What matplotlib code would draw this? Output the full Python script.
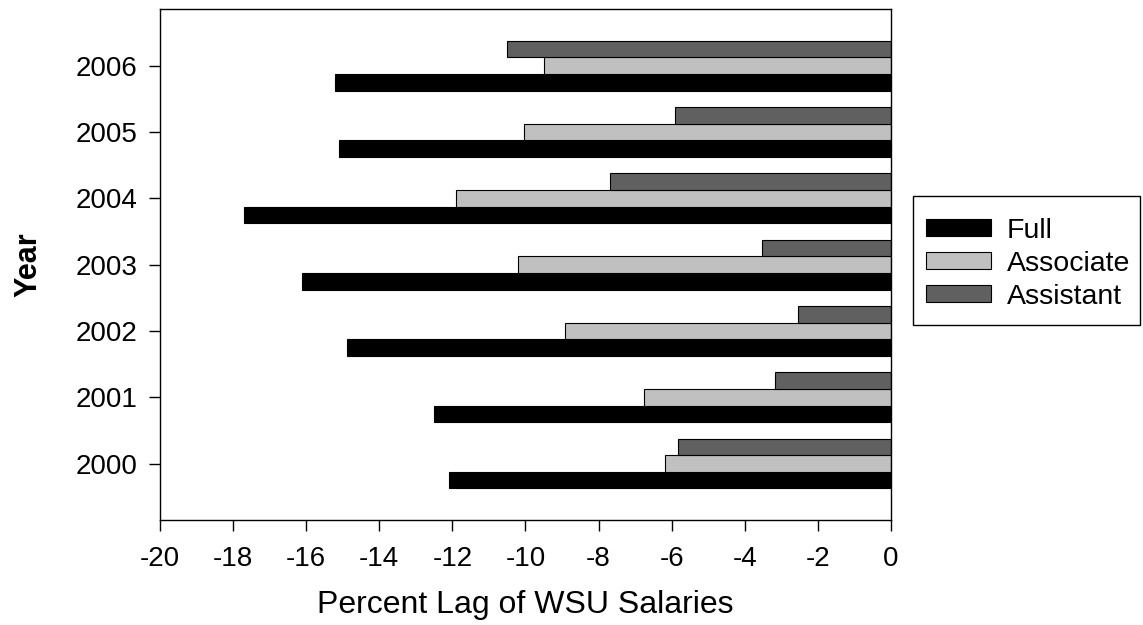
import matplotlib
matplotlib.use("Agg")
import matplotlib.pyplot as plt
from matplotlib.patches import Rectangle
import numpy as np

plt.rcParams['font.family'] = ['Liberation Sans', 'DejaVu Sans']

years = [2000, 2001, 2002, 2003, 2004, 2005, 2006]
full = [-12.09, -12.51, -14.88, -16.11, -17.71, -15.11, -15.21]
associate = [-6.17, -6.77, -8.92, -10.20, -11.91, -10.03, -9.49]
assistant = [-5.82, -3.16, -2.54, -3.52, -7.70, -5.91, -10.50]
x_ticks = [-20, -18, -16, -14, -12, -10, -8, -6, -4, -2, 0]

W, H = 1143, 625
fig = plt.figure(figsize=(W / 100, H / 100), dpi=100)
ax = fig.add_axes([0.140, 0.168, 0.6395, 0.8176])

pos = np.arange(len(years))
h = 0.25
ax.barh(pos - h, full, height=h, color='#000000', edgecolor='#000000',
        linewidth=0.8, label='Full')
ax.barh(pos, associate, height=h, color='#c0c0c0', edgecolor='#000000',
        linewidth=0.8, label='Associate')
ax.barh(pos + h, assistant, height=h, color='#606060', edgecolor='#000000',
        linewidth=0.8, label='Assistant')

ax.set_xlim(-20, 0)
ax.set_ylim(-0.85, len(years) - 1 + 0.855)
ax.set_xticks(x_ticks)
ax.set_xticklabels([str(v) for v in x_ticks])
ax.set_yticks(pos)
ax.set_yticklabels([str(y) for y in years])
ax.tick_params(axis='both', direction='out', length=8, width=1,
               labelsize=20)
ax.tick_params(axis='x', pad=11)
ax.tick_params(axis='y', pad=8)
for s in ax.spines.values():
    s.set_linewidth(1)

ax.set_xlabel('Percent Lag of WSU Salaries', fontsize=23)
ax.xaxis.set_label_coords(0.5, -0.137)
ax.set_ylabel('Year', fontsize=22, fontweight='bold')
ax.yaxis.set_label_coords(-0.160, 0.5)

# legend box drawn as a separate frame, beneath the legend entries
ax.add_patch(Rectangle((913 / W, 1 - 325 / H), (1140 - 913) / W,
                       (325 - 196) / H, transform=fig.transFigure,
                       facecolor='white', edgecolor='#000000',
                       linewidth=1, zorder=1, clip_on=False))
leg = ax.legend(loc='upper left', bbox_to_anchor=(913 / W, 1 - 205 / H),
                bbox_transform=fig.transFigure, borderaxespad=0,
                fontsize=20.5, frameon=False, handlelength=2.3,
                handleheight=0.54, handletextpad=0.55, labelspacing=0.25,
                borderpad=0.45)
leg.set_zorder(10)

fig.savefig('out.png', dpi=100, facecolor='white')
